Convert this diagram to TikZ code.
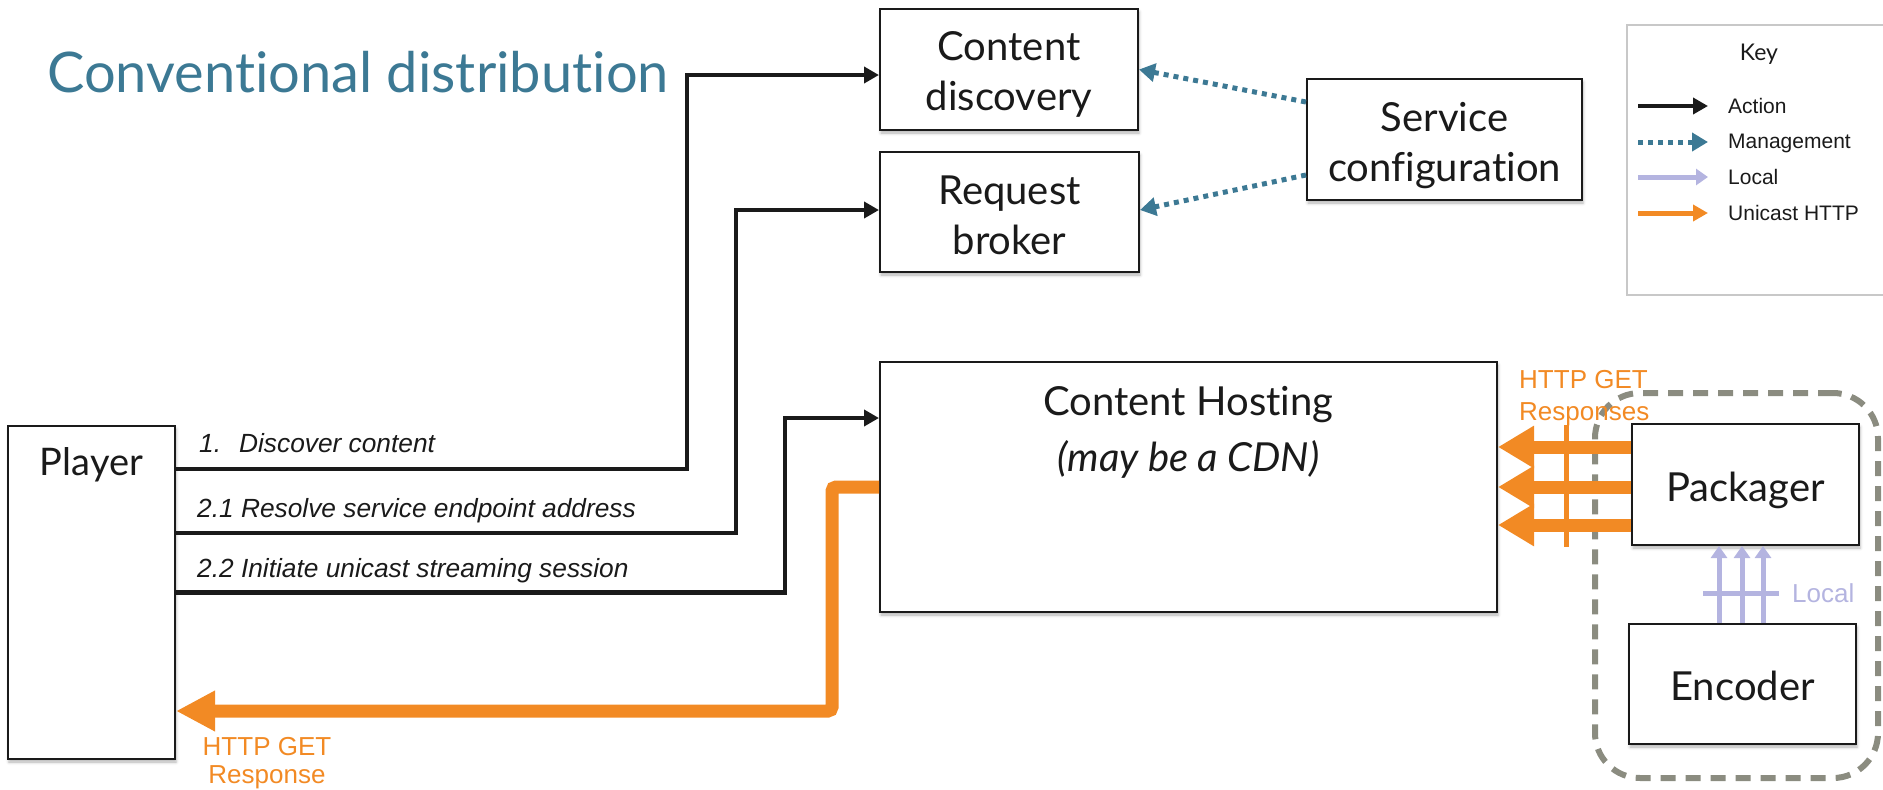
\documentclass[tikz,border=0pt]{standalone}
\usepackage{fontspec}
\newfontfamily\gillfont[Ligatures={NoCommon}]{Lato}
\newfontfamily\arialfont{Liberation Sans}
\usetikzlibrary{arrows.meta,shadows.blur}
\definecolor{cTeal}{RGB}{60,121,148}
\definecolor{cOrange}{RGB}{242,138,36}
\definecolor{cLav}{RGB}{180,180,224}
\definecolor{cDash}{RGB}{139,140,128}
\definecolor{cKey}{RGB}{200,200,200}
\definecolor{cInk}{RGB}{26,26,26}
\tikzset{
  box/.style={draw=cInk, line width=2pt, fill=white, inner sep=0pt,
    blur shadow={shadow xshift=1pt, shadow yshift=-3pt, shadow blur radius=3pt, shadow opacity=30}},
  boxtxt/.style={font=\gillfont\fontsize{40}{50}\selectfont, align=center, text=cInk, inner sep=0pt},
  action/.style={draw=cInk, line width=4.5pt, -{Triangle[length=15pt,width=16pt]}},
  mgmt/.style={draw=cTeal, line width=5pt, dash pattern=on 5pt off 5pt, -{Triangle[length=16pt,width=18pt]}},
  http/.style={draw=cOrange, line width=13pt, -{Triangle[length=36pt,width=40pt]}},
  localarr/.style={draw=cLav, line width=5pt, -{Triangle[length=12pt,width=16pt]}},
  grp/.style={draw=cDash, line width=6pt, dash pattern=on 15pt off 10pt, rounded corners=45pt, inner sep=0pt},
  steplbl/.style={font=\arialfont\itshape\fontsize{26.3}{30}\selectfont, text=cInk, anchor=base west, inner sep=0pt},
  keylbl/.style={font=\arialfont\fontsize{21}{25}\selectfont, text=cInk, anchor=base west, inner sep=0pt},
  orangelbl/.style={font=\arialfont\fontsize{26}{32}\selectfont, text=cOrange, inner sep=0pt},
}
\begin{document}
\begin{tikzpicture}[x=1pt, y=-1pt]
\useasboundingbox (0,0) rectangle (1883,790);

% title
\node[font=\gillfont\fontsize{56}{64}\selectfont, text=cTeal, anchor=base west, inner sep=0pt] (title) at (47,92) {Conventional distribution};

% key
\draw[cKey, line width=2pt] (1883,25) -- (1627,25) -- (1627,295) -- (1883,295);
\node[font=\gillfont\fontsize{23}{27}\selectfont, text=cInk, anchor=base, inner sep=0pt] (keyt) at (1759,60) {Key};
\coordinate (ka1) at (1638,106); \coordinate (kb1) at (1708,106);
\coordinate (ka2) at (1638,142); \coordinate (kb2) at (1708,142);
\coordinate (ka3) at (1638,177); \coordinate (kb3) at (1708,177);
\coordinate (ka4) at (1638,213); \coordinate (kb4) at (1708,213);
\draw[action] (ka1) -- (kb1);
\draw[mgmt] (ka2) -- (kb2);
\draw[localarr] (ka3) -- (kb3);
\draw[draw=cOrange, line width=5pt, -{Triangle[length=15pt,width=16pt]}] (ka4) -- (kb4);
\node[keylbl] (k1) at (1728,113) {Action};
\node[keylbl] (k2) at (1728,148.5) {Management};
\node[keylbl] (k3) at (1728,184) {Local};
\node[keylbl] (k4) at (1728,220) {Unicast HTTP};

% group frame
\node[grp, minimum width=283pt, minimum height=385pt] (grpbox) at (1736.5,585.5) {};

% boxes
\node[box, minimum width=258pt, minimum height=121pt] (cd) at (1009,69.5) {};
\node[boxtxt] (cdt) at ([yshift=-5pt]cd.center) {Content\\discovery};
\node[box, minimum width=259pt, minimum height=120pt] (rb) at (1009.5,212) {};
\node[boxtxt] (rbt) at ([yshift=-3pt]rb.center) {Request\\broker};
\node[box, minimum width=275pt, minimum height=121pt] (sc) at (1444.5,139.5) {};
\node[boxtxt] (sct) at ([yshift=-6pt]sc.center) {Service\\configuration};
\node[box, minimum width=617pt, minimum height=250pt] (ch) at (1188.5,487) {};
\node[boxtxt, anchor=base] (chl1) at (1188.5,415) {Content Hosting};
\node[boxtxt, anchor=base] (chl2) at (1188.5,471) {\itshape (may be a CDN)};
\node[box, minimum width=167pt, minimum height=333pt] (pl) at (91.5,592.5) {};
\node[font=\gillfont\fontsize{38}{44}\selectfont, text=cInk, anchor=base, inner sep=0pt] (pll) at (91.5,475) {Player};
\node[box, minimum width=227pt, minimum height=121pt] (pk) at (1745.5,484.5) {};
\node[boxtxt] (pkt) at ([yshift=-6pt]pk.center) {Packager};
\node[box, minimum width=227pt, minimum height=120pt] (en) at (1742.5,684) {};
\node[boxtxt] (ent) at ([yshift=-2pt]en.center) {Encoder};

% helper verticals
\coordinate (v1) at (687,0);
\coordinate (v2) at (736,0);
\coordinate (v3) at (785,0);
\coordinate (v4) at (832,0);

% action connectors
\coordinate (a1) at ([yshift=123.5pt]pl.east);
\coordinate (a2) at ([yshift=59.5pt]pl.east);
\coordinate (a3) at (pl.east);
\coordinate (b1) at ([yshift=-5.5pt]cd.west);
\coordinate (b2) at ([yshift=2pt]rb.west);
\coordinate (b3) at ([yshift=69pt]ch.west);
\draw[action] (a1) -- (a1 -| v1) |- (b1);
\draw[action] (a2) -- (a2 -| v2) |- (b2);
\draw[action] (a3) -- (a3 -| v3) |- (b3);

\node[steplbl] (s1) at (199,452) {1.\hspace{18pt}Discover content};
\node[steplbl] (s2) at (197,517) {2.1 Resolve service endpoint address};
\node[steplbl] (s3) at (197,577) {2.2 Initiate unicast streaming session};

% management
\coordinate (m1) at ([yshift=37.5pt]sc.west);
\coordinate (m2) at ([yshift=-35.5pt]sc.west);
\draw[mgmt] (m1) -- (cd.east);
\draw[mgmt] (m2) -- ([yshift=2pt]rb.east);

% HTTP response to player
\coordinate (pin) at ([yshift=-118.5pt]pl.east);
\draw[http, rounded corners=4pt, -{Triangle[length=39pt,width=38pt]}] (ch.west) -- (ch.west -| v4) |- (pin);
\node[orangelbl, font=\arialfont\fontsize{26}{28}\selectfont, align=center, anchor=base] (hr) at (267,783) {HTTP GET\\Response};

% HTTP responses packager -> hosting
\coordinate (o1) at ([yshift=37.5pt]pk.west);
\coordinate (o2) at ([yshift=-2.5pt]pk.west);
\coordinate (o3) at ([yshift=-40.5pt]pk.west);
\draw[http] (o1) -- (o1 -| ch.east);
\draw[http] (o2) -- (o2 -| ch.east);
\draw[http] (o3) -- (o3 -| ch.east);
\draw[cOrange, line width=5pt] (1566,425) -- (1566,547);
\node[orangelbl, align=left, anchor=base west] (hrs) at (1519,420) {HTTP GET\\Responses};

% local
\coordinate (l1) at ([xshift=-23.5pt]en.north);
\coordinate (l2) at ([xshift=-0.5pt]en.north);
\coordinate (l3) at ([xshift=20.5pt]en.north);
\draw[localarr] (l1) -- (l1 |- pk.south);
\draw[localarr] (l2) -- (l2 |- pk.south);
\draw[localarr] (l3) -- (l3 |- pk.south);
\draw[cLav, line width=5pt] (1703,593) -- (1779,593);
\node[font=\arialfont\fontsize{26}{30}\selectfont, text=cLav, anchor=base west, inner sep=0pt] (lcl) at (1792,602) {Local};
\end{tikzpicture}
\end{document}
